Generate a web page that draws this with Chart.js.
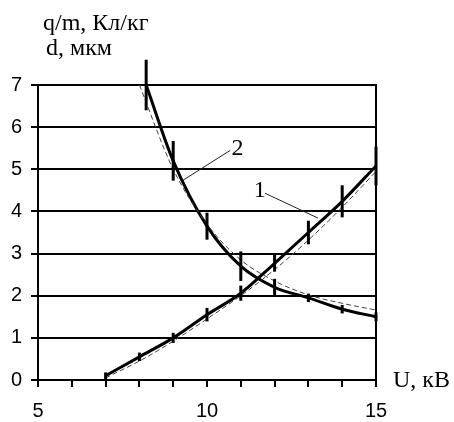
<!DOCTYPE html>
<html>
<head>
<meta charset="utf-8">
<script src="https://cdn.jsdelivr.net/npm/chart.js@4"></script>
<style>body{margin:0;background:#fff}</style>
</head>
<body>
<canvas id="chart" width="454" height="422"></canvas>
<script>
// curve 1: q/m vs U
const u1 = [7, 8, 9, 10, 11, 12, 13, 14, 15];
const qm = [0.1, 0.55, 1.0, 1.55, 2.06, 2.77, 3.5, 4.24, 5.08];
const qmErr = [0.08, 0.1, 0.12, 0.16, 0.18, 0.2, 0.28, 0.38, 0.46];
const qmFit = [0.05, 0.45, 0.92, 1.45, 2.0, 2.62, 3.32, 4.1, 4.95];

// curve 2: d vs U
const u2 = [8.2, 9, 10, 11, 12, 13, 14, 15];
const d = [7.0, 5.2, 3.65, 2.7, 2.2, 1.95, 1.68, 1.5];
const dErr = [0.6, 0.47, 0.32, 0.35, 0.2, 0.1, 0.1, 0.1];
const uFit2 = [8, 9, 10, 11, 12, 13, 14, 15];
const dFit = [7.0, 5.0, 3.7, 2.85, 2.35, 2.02, 1.82, 1.66];

// leader lines and their labels (data units)
const leader1 = [[11.72, 4.43], [13.29, 3.84]];
const leader2 = [[10.69, 5.45], [9.29, 4.74]];
const curveLabels = [['1', 11.56, 4.5], ['2', 10.9, 5.5]];

const xLabelEvery = 5;
const titleLines = ['q/m, Кл/кг', 'd, мкм'];
const xTitle = 'U, кВ';

const pts = (xs, ys) => xs.map((x, i) => ({x: x, y: ys[i]}));
const seg = a => a.map(p => ({x: p[0], y: p[1]}));

const errorBars = {
	id: 'errorBars',
	afterDatasetsDraw(chart) {
		const {ctx, scales: {x, y}} = chart;
		ctx.save();
		ctx.strokeStyle = '#000';
		ctx.lineWidth = 3;
		chart.data.datasets.forEach(ds => {
			if (!ds.err) return;
			ds.data.forEach((p, i) => {
				const px = x.getPixelForValue(p.x);
				ctx.beginPath();
				ctx.moveTo(px, y.getPixelForValue(p.y - ds.err[i]));
				ctx.lineTo(px, y.getPixelForValue(p.y + ds.err[i]));
				ctx.stroke();
			});
		});
		ctx.restore();
	}
};

const texts = {
	id: 'texts',
	afterDraw(chart) {
		const {ctx, scales: {x, y}} = chart;
		ctx.save();
		ctx.fillStyle = '#000';
		ctx.font = '24px "Liberation Serif"';
		ctx.textBaseline = 'alphabetic';
		ctx.textAlign = 'left';
		ctx.fillText(titleLines[0], 43, 30);
		ctx.fillText(titleLines[1], 46, 55);
		ctx.fillText(xTitle, 393, 387);
		ctx.textAlign = 'center';
		ctx.textBaseline = 'middle';
		curveLabels.forEach(l => {
			ctx.fillText(l[0], x.getPixelForValue(l[1]), y.getPixelForValue(l[2]));
		});
		ctx.restore();
	}
};

Chart.defaults.font.family = '"Liberation Sans", Arial, sans-serif';
Chart.defaults.color = '#000';

new Chart(document.getElementById('chart'), {
	type: 'line',
	data: {
		datasets: [{
			data: pts(u1, qmFit),
			borderColor: '#444',
			borderWidth: 1,
			borderDash: [5, 3],
			pointRadius: 0,
			cubicInterpolationMode: 'monotone',
		}, {
			data: pts(uFit2, dFit),
			borderColor: '#444',
			borderWidth: 1,
			borderDash: [5, 3],
			pointRadius: 0,
			cubicInterpolationMode: 'monotone',
		}, {
			data: pts(u1, qm),
			err: qmErr,
			borderColor: '#000',
			borderWidth: 3,
			pointRadius: 0,
			cubicInterpolationMode: 'monotone',
		}, {
			data: pts(u2, d),
			err: dErr,
			borderColor: '#000',
			borderWidth: 3,
			pointRadius: 0,
			cubicInterpolationMode: 'monotone',
		}, {
			data: seg(leader1),
			borderColor: '#222',
			borderWidth: 1,
			pointRadius: 0,
		}, {
			data: seg(leader2),
			borderColor: '#222',
			borderWidth: 1,
			pointRadius: 0,
		}]
	},
	options: {
		responsive: false,
		animation: false,
		layout: {padding: {left: 0, right: 78, top: 85, bottom: 0}},
		plugins: {legend: {display: false}, tooltip: {enabled: false}},
		scales: {
			x: {
				type: 'linear',
				min: 5,
				max: 15,
				ticks: {
					stepSize: 1,
					autoSkip: false,
					maxRotation: 0,
					padding: 12,
					font: {size: 20},
					callback: v => (v % xLabelEvery === 0 ? v : ''),
				},
				grid: {drawOnChartArea: false, tickLength: 7, color: '#000', lineWidth: 2},
				border: {color: '#000', width: 2},
				afterFit: s => { s.height = 42; },
			},
			y: {
				min: 0,
				max: 7,
				ticks: {stepSize: 1, padding: 9, font: {size: 20}},
				grid: {tickLength: 7, color: '#000', lineWidth: 2},
				border: {color: '#000', width: 2},
				afterFit: s => { s.width = 38; },
			},
			y2: {
				position: 'right',
				min: 0,
				max: 7,
				ticks: {display: false},
				grid: {drawOnChartArea: false, drawTicks: false},
				border: {color: '#000', width: 2},
				afterFit: s => { s.width = 0; },
			}
		}
	},
	plugins: [errorBars, texts]
});
</script>
</body>
</html>
